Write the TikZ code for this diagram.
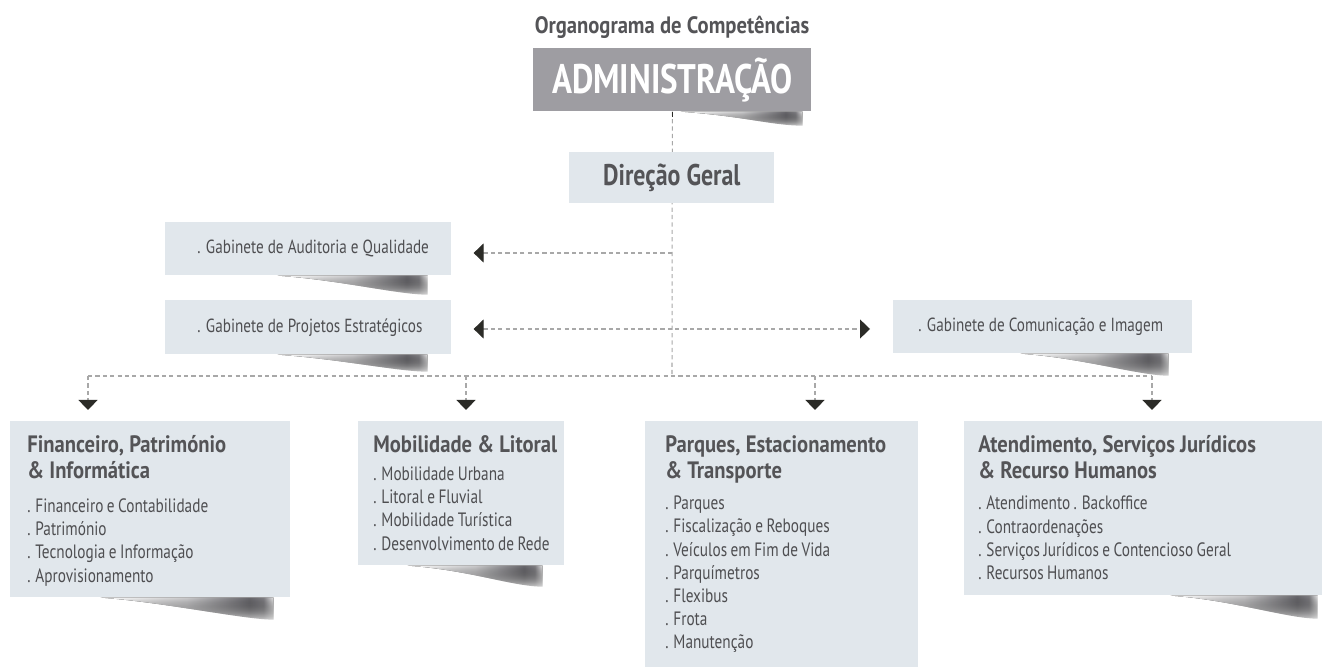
\documentclass[tikz,border=0pt]{standalone}
\usepackage{fontspec}
\setmainfont[FakeStretch=0.8]{PT Sans}
\newfontfamily\headfont[FakeStretch=0.87]{PT Sans}
\newfontfamily\itemfont[FakeStretch=0.79,WordSpace=0.85]{PT Sans}
\usetikzlibrary{arrows.meta,positioning,fadings}

\definecolor{boxfill}{HTML}{E1E7EC}
\definecolor{admfill}{HTML}{9E9DA2}
\definecolor{headgray}{HTML}{545457}
\definecolor{itemgray}{HTML}{4E4E51}
\definecolor{dashgray}{HTML}{A8A8A8}
\definecolor{tipgray}{HTML}{2B2B27}
\definecolor{shadowgray}{HTML}{68676C}
\pgfdeclarehorizontalshading{curl}{100bp}{color(0bp)=(white); color(25bp)=(white);
    color(50bp)=(shadowgray!35); color(68bp)=(shadowgray); color(72bp)=(shadowgray!85);
    color(75bp)=(shadowgray!15); color(100bp)=(shadowgray!15)}
\tikzfading[name=curlfade,top color=transparent!0,bottom color=transparent!85]

\begin{document}
\begin{tikzpicture}[x=0.02cm,y=-0.02cm,>={Triangle[length=0.2cm,width=0.38cm,color=tipgray]},
    unit/.style={fill=boxfill,inner sep=0pt,anchor=north west},
    head/.style={font=\headfont\bfseries\fontsize{13.5}{14.8}\selectfont,text=headgray,align=left,inner sep=0pt,anchor=north west},
    item/.style={font=\itemfont\fontsize{11}{13.2}\selectfont,text=itemgray,align=left,inner sep=0pt,anchor=north west},
    gab/.style={font=\fontsize{10.8}{13}\selectfont,text=itemgray,inner sep=0pt,anchor=west},
    link/.style={draw=dashgray,line width=0.6pt,dash pattern=on 2.4pt off 1.8pt}]
    \useasboundingbox (0,0) rectangle (1322,668);

    % top
    \node[font=\headfont\bfseries\fontsize{13.5}{15}\selectfont,text=headgray](title)at(672,27){Organograma de Competências};
    \node[unit,fill=admfill,minimum width=5.56cm,minimum height=1.26cm,
        font=\bfseries\fontsize{23.5}{26}\selectfont,text=white](adm)at(533,48){ADMINISTRAÇÃO};

    \coordinate(hub)at(672,376);
    \coordinate(j1)at(672,253);
    \coordinate(j2)at(672,329);
    \draw[link](adm.south) -- (hub);
    \draw[tipgray,line width=0.8pt](adm.south) -- ++(0,5);

    \node[unit,minimum width=4.1cm,minimum height=1.02cm,
        font=\bfseries\fontsize{17}{20}\selectfont,text=headgray](dir)at(569,152){Direção Geral};

    % gabinetes
    \node[unit,minimum width=5.72cm,minimum height=1.06cm](aud)at(165,222){};
    \node[unit,minimum width=5.72cm,minimum height=1.08cm](proj)at(165,300){};
    \node[unit,minimum width=5.98cm,minimum height=1.06cm](com)at(893,300){};
    \node[gab](audT)at([xshift=0.64cm]aud.west){. Gabinete de Auditoria e Qualidade};
    \node[gab](projT)at([xshift=0.64cm]proj.west){. Gabinete de Projetos Estratégicos};
    \node[gab](comT)at([xshift=0.5cm]com.west){. Gabinete de Comunicação e Imagem};

    \draw[link,->,shorten >=0.44cm](j1) -- (aud.east |- j1);
    \draw[link,<->,shorten <=0.44cm,shorten >=0.46cm](proj.east |- j2) -- (com.west |- j2);

    % areas
    \node[unit,minimum width=5.6cm,minimum height=3.52cm](fin)at(10,421){};
    \node[unit,minimum width=4.12cm,minimum height=2.88cm](mob)at(358,421){};
    \node[unit,minimum width=5.46cm,minimum height=4.92cm](parq)at(645,421){};
    \node[unit,minimum width=7.16cm,minimum height=3.48cm](atend)at(964,421){};

    \node[head](finH)at(27,435){Financeiro, Património\\\& Informática};
    \node[item,below=11pt of finH.south west,anchor=north west](finL){. Financeiro e Contabilidade\\. Património\\. Tecnologia e Informação\\. Aprovisionamento};
    \node[head](mobH)at(373,435){Mobilidade \& Litoral};
    \node[item,below=7.7pt of mobH.south west,anchor=north west](mobL){. Mobilidade Urbana\\. Litoral e Fluvial\\. Mobilidade Turística\\. Desenvolvimento de Rede};
    \node[head](parqH)at(665,435){Parques, Estacionamento\\\& Transporte};
    \node[item,below=7pt of parqH.south west,anchor=north west](parqL){. Parques\\. Fiscalização e Reboques\\. Veículos em Fim de Vida\\. Parquímetros\\. Flexibus\\. Frota\\. Manutenção};
    \node[head](atendH)at(978,435){Atendimento, Serviços Jurídicos\\\& Recurso Humanos};
    \node[item,below=9.5pt of atendH.south west,anchor=north west](atendL){. Atendimento . Backoffice\\. Contraordenações\\. Serviços Jurídicos e Contencioso Geral\\. Recursos Humanos};

    % bus and drops
    \coordinate(b1)at(88,376);
    \coordinate(b2)at(466,376);
    \coordinate(b3)at(815,376);
    \coordinate(b4)at(1152,376);
    \coordinate(finIn)at(88,410);
    \coordinate(mobIn)at(466,410);
    \coordinate(parqIn)at(815,410);
    \coordinate(atendIn)at(1152,410);
    \draw[link](b1) -- (b4);
    \foreach \s/\t in {b1/finIn,b2/mobIn,b3/parqIn,b4/atendIn}
        \draw[link,->](\s) -- (\t);

    % shadows
    \foreach \bx/\shFrom/\shIn/\shDown in {adm/2.62/0.18/0.28,aud/3.48/0.48/0.38,proj/3.48/0.48/0.34,
        com/3.44/0.48/0.44,fin/3.8/0.34/0.44,mob/3.14/0.44/0.42,atend/3.04/0.1/0.46}
        \fill[shading=curl,path fading=curlfade]
            ([xshift=-\shFrom cm]\bx.south east) -- ([xshift=-\shIn cm]\bx.south east)
            -- ([xshift=-\shIn cm,yshift=-\shDown cm]\bx.south east)
            .. controls ([xshift={-(\shIn+0.6)*1cm},yshift=-\shDown cm]\bx.south east)
            and ([xshift={-(\shFrom-1.2)*1cm},yshift=-0.08cm]\bx.south east) .. ([xshift=-\shFrom cm]\bx.south east);
\end{tikzpicture}
\end{document}
